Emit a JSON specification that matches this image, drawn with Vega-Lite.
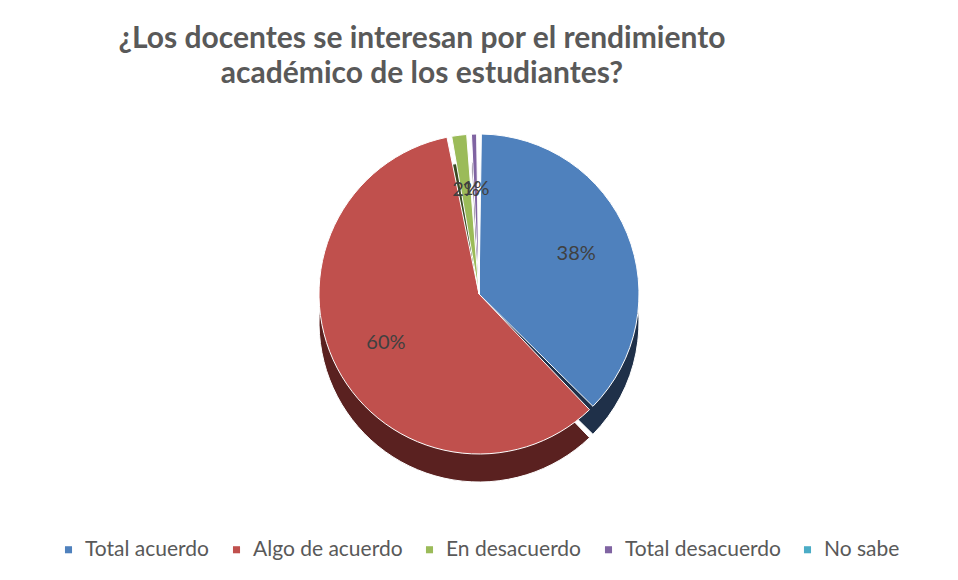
{
  "$schema": "https://vega.github.io/schema/vega-lite/v6.json",
  "width": 958,
  "height": 580,
  "autosize": {"type": "fit", "contains": "padding"},
  "padding": {"top": 24, "bottom": 20, "left": 10, "right": 10},
  "background": "white",
  "title": {
    "text": ["¿Los docentes se interesan por el rendimiento", "académico de los estudiantes?"],
    "font": "Lato",
    "fontSize": 30,
    "fontWeight": "bold",
    "color": "#595959",
    "anchor": "middle",
    "dx": -57,
    "lineHeight": 35,
    "offset": 6
  },
  "data": {
    "values": [
      {"respuesta": "Total acuerdo", "porcentaje": 0.38, "orden": 1},
      {"respuesta": "Algo de acuerdo", "porcentaje": 0.60, "orden": 2},
      {"respuesta": "En desacuerdo", "porcentaje": 0.02, "orden": 3},
      {"respuesta": "Total desacuerdo", "porcentaje": 0.01, "orden": 4},
      {"respuesta": "No sabe", "porcentaje": 0, "orden": 5}
    ]
  },
  "encoding": {
    "theta": {"field": "porcentaje", "type": "quantitative", "stack": true},
    "order": {"field": "orden", "type": "quantitative"}
  },
  "layer": [
    {
      "mark": {"type": "arc", "outerRadius": 160, "yOffset": 28, "padAngle": 0.03, "stroke": "white", "strokeWidth": 1},
      "encoding": {
        "color": {
          "field": "respuesta",
          "type": "nominal",
          "scale": {
            "domain": ["Total acuerdo", "Algo de acuerdo", "En desacuerdo", "Total desacuerdo", "No sabe"],
            "range": ["#1F3049", "#5A2120", "#3B4A22", "#3E2F52", "#1F5566"]
          },
          "legend": null
        }
      }
    },
    {
      "mark": {"type": "arc", "outerRadius": 160, "padAngle": 0.03, "stroke": "white", "strokeWidth": 1},
      "encoding": {
        "color": {
          "field": "respuesta",
          "type": "nominal",
          "scale": {
            "domain": ["Total acuerdo", "Algo de acuerdo", "En desacuerdo", "Total desacuerdo", "No sabe"],
            "range": ["#4F81BD", "#C0504D", "#9BBB59", "#8064A2", "#4BACC6"]
          },
          "legend": {
            "orient": "bottom",
            "direction": "horizontal",
            "title": null,
            "symbolType": "square",
            "symbolSize": 50,
            "symbolStrokeWidth": 0,
            "labelFont": "Lato",
            "labelFontSize": 21,
            "labelLimit": 400,
            "labelColor": "#595959",
            "columnPadding": 16,
            "symbolOffset": 0,
            "labelOffset": 6,
            "offset": 46
          }
        }
      }
    },
    {
      "transform": [{"filter": "datum.porcentaje > 0"}],
      "mark": {"type": "text", "radius": 105, "font": "Lato", "fontSize": 20, "color": "#404040"},
      "encoding": {
        "text": {"field": "porcentaje", "type": "quantitative", "format": ".0%"}
      }
    }
  ],
  "resolve": {"scale": {"color": "independent"}},
  "config": {
    "view": {"stroke": null},
    "legend": {"layout": {"bottom": {"anchor": "middle"}}}
  }
}
